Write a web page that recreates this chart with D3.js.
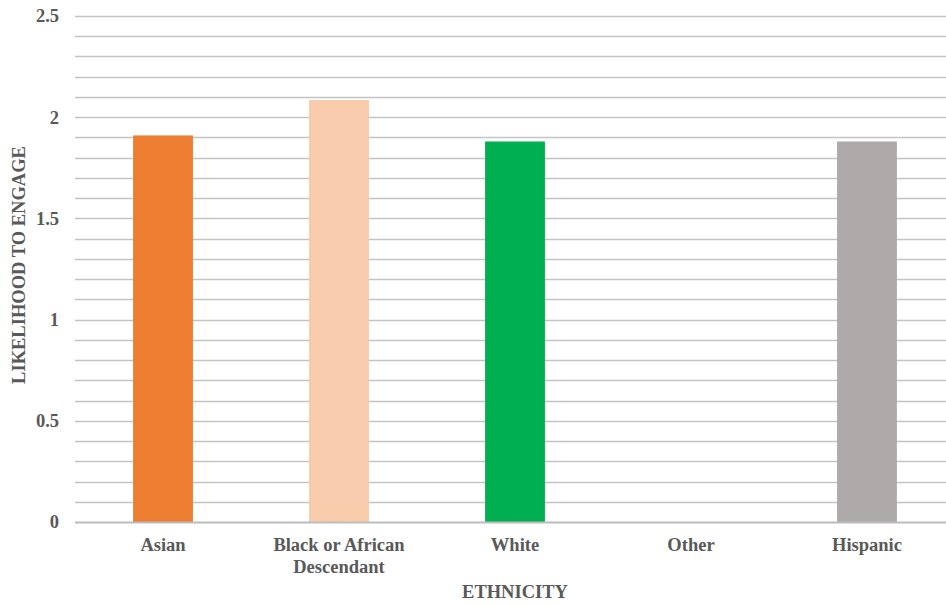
<!DOCTYPE html>
<html><head><meta charset="utf-8">
<script src="https://cdn.jsdelivr.net/npm/d3@7"></script>
<style>body{margin:0;background:#fff}svg{display:block}
text{font-family:"Liberation Serif","Times New Roman","DejaVu Serif",serif;font-weight:bold;fill:#595959}</style>
</head><body>
<svg id="c" width="946" height="605"></svg>
<script>
const categories = ["Asian", "Black or African|Descendant", "White", "Other", "Hispanic"];
const values = [1.91, 2.085, 1.88, null, 1.88];
const colors = ["#ED7D31", "#F8CBAD", "#00B050", "#FFFFFF", "#AEAAAA"];
const yTicks = [0, 0.5, 1, 1.5, 2, 2.5];
const yTitle = "LIKELIHOOD TO ENGAGE";
const xTitle = "ETHNICITY";

const svg = d3.select("#c");
const fs = 18.5;
const x = d3.scaleBand().domain(categories).range([75, 955]).paddingInner(0.66).paddingOuter(0.33);
const y = d3.scaleLinear().domain([0, 2.5]).range([522, 16]);

// minor + major gridlines
const grid = d3.range(0, 26).map(i => i / 10).filter(v => v > 0);
svg.append("g").selectAll("line").data(grid).join("line")
  .attr("x1", 75).attr("x2", 946)
  .attr("y1", d => Math.round(y(d)) + 0.5).attr("y2", d => Math.round(y(d)) + 0.5)
  .attr("stroke", "#c4c4c4").attr("stroke-width", 1.5);

// bars
svg.append("g").selectAll("rect").data(categories.map((c, i) => ({c, v: values[i], col: colors[i]})).filter(d => d.v != null))
  .join("rect")
  .attr("x", d => x(d.c)).attr("width", x.bandwidth())
  .attr("y", d => y(d.v)).attr("height", d => y(0) - y(d.v))
  .attr("fill", d => d.col);

// baseline
svg.append("line").attr("x1", 75).attr("x2", 946).attr("y1", y(0) + 0.5).attr("y2", y(0) + 0.5)
  .attr("stroke", "#bcbcbc").attr("stroke-width", 2);

// y axis labels
const yAxis = d3.axisLeft(y).tickValues(yTicks).tickSize(0).tickPadding(0).tickFormat(d3.format("~g"));
const ya = svg.append("g").attr("transform", "translate(59,0)").call(yAxis);
ya.select(".domain").remove();
ya.attr("font-family", null).attr("font-size", null);
ya.selectAll("text").attr("font-size", fs).attr("fill", "#595959");

// x axis labels
const xa = svg.append("g");
categories.forEach(c => {
  const lines = c.split("|");
  const cx = x(c) + x.bandwidth() / 2;
  const t = xa.append("text").attr("x", cx).attr("y", 551)
    .attr("text-anchor", "middle").attr("font-size", fs);
  lines.forEach((l, i) => t.append("tspan").attr("x", cx).attr("dy", i === 0 ? 0 : 22).text(l));
});

// titles
svg.append("text").attr("x", 515).attr("y", 598).attr("text-anchor", "middle")
  .attr("font-size", fs).text(xTitle);
svg.append("text").attr("transform", "translate(25,265) rotate(-90)").attr("text-anchor", "middle")
  .attr("font-size", fs).text(yTitle);
</script>
</body></html>
